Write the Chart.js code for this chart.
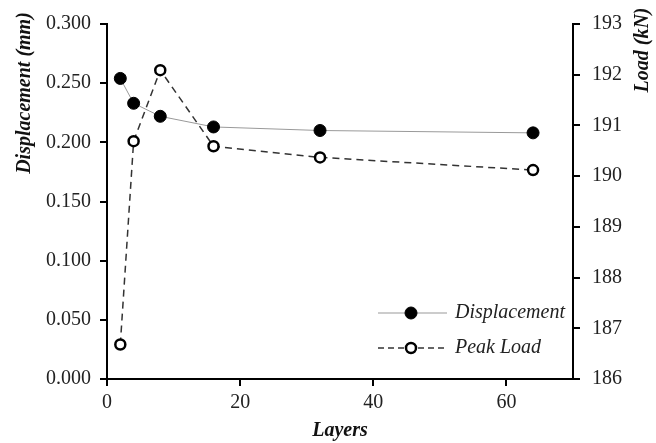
<!DOCTYPE html>
<html>
<head>
<meta charset="utf-8">
<script src="https://cdn.jsdelivr.net/npm/chart.js@4/dist/chart.umd.min.js"></script>
<style>
  html, body { margin: 0; padding: 0; background: #fff; }
  #wrap { width: 656px; height: 443px; }
</style>
</head>
<body>
<div id="wrap"><canvas id="chart" width="656" height="443"></canvas></div>
<script>
// Data
const layers = [2, 4, 8, 16, 32, 64];
const displacement = [0.254, 0.233, 0.222, 0.213, 0.210, 0.208];
const peakLoad = [186.68, 190.69, 192.09, 190.59, 190.37, 190.12];
const xTicks = [0, 20, 40, 60];

const SERIF = "'Liberation Serif', 'DejaVu Serif', serif";
const TITLE_FONT = "italic bold 20px " + SERIF;

// Legend drawn inside the plot, lower right, plus the two rotated axis titles
const extras = {
  id: "extras",
  afterDraw(chart) {
    const c = chart.ctx;
    const rows = [
      { label: "Displacement", dash: [], lineColor: "#999", lw: 1, fill: "#000", r: 6, bw: 1 },
      { label: "Peak Load", dash: [6, 4], lineColor: "#333", lw: 1.5, fill: "#fff", r: 5, bw: 2.5 },
    ];
    const x0 = 378, x1 = 447, xm = 411;
    rows.forEach((row, i) => {
      const y = 313 + i * 35;
      c.save();
      c.strokeStyle = row.lineColor;
      c.lineWidth = row.lw;
      c.setLineDash(row.dash);
      c.beginPath();
      c.moveTo(x0, y);
      c.lineTo(x1, y);
      c.stroke();
      c.setLineDash([]);
      c.beginPath();
      c.arc(xm, y, row.r, 0, Math.PI * 2);
      c.fillStyle = row.fill;
      c.fill();
      c.lineWidth = row.bw;
      c.strokeStyle = "#000";
      c.stroke();
      c.fillStyle = "#222";
      c.font = "italic 20px " + SERIF;
      c.textBaseline = "middle";
      c.fillText(row.label, 455, y);
      c.restore();
    });

    // rotated axis titles, both read bottom to top
    const titles = [
      { text: "Displacement (mm)", x: 25, y: 93 },
      { text: "Load (kN)", x: 643, y: 50 },
    ];
    titles.forEach((t) => {
      c.save();
      c.translate(t.x, t.y);
      c.rotate(-Math.PI / 2);
      c.font = TITLE_FONT;
      c.fillStyle = "#111";
      c.textAlign = "center";
      c.textBaseline = "middle";
      c.fillText(t.text, 0, 0);
      c.restore();
    });
  },
};

const ctx = document.getElementById("chart").getContext("2d");

new Chart(ctx, {
  type: "line",
  data: {
    datasets: [
      {
        label: "Displacement",
        data: layers.map((x, i) => ({ x: x, y: displacement[i] })),
        yAxisID: "y",
        borderColor: "#999",
        borderWidth: 1,
        pointRadius: 6,
        pointBackgroundColor: "#000",
        pointBorderColor: "#000",
        pointBorderWidth: 1,
        tension: 0,
      },
      {
        label: "Peak Load",
        data: layers.map((x, i) => ({ x: x, y: peakLoad[i] })),
        yAxisID: "y1",
        borderColor: "#333",
        borderWidth: 1.5,
        borderDash: [7, 5],
        pointRadius: 5,
        pointBackgroundColor: "#fff",
        pointBorderColor: "#000",
        pointBorderWidth: 2.5,
        tension: 0,
      },
    ],
  },
  options: {
    responsive: false,
    animation: false,
    layout: { padding: { top: 20, left: 0, right: 0, bottom: 0 } },
    plugins: {
      legend: { display: false },
      tooltip: { enabled: false },
    },
    scales: {
      x: {
        type: "linear",
        min: 0,
        max: 70,
        afterBuildTicks: (s) => { s.ticks = xTicks.map((v) => ({ value: v })); },
        afterFit: (s) => { s.height = 64; },
        grid: { drawOnChartArea: false, drawTicks: true, tickLength: 7, color: "#000", lineWidth: 2 },
        border: { color: "#000", width: 2 },
        ticks: { color: "#222", font: { family: SERIF, size: 20 }, padding: 5 },
        title: {
          display: true,
          text: "Layers",
          color: "#111",
          font: { family: SERIF, size: 20, style: "italic", weight: "bold" },
          padding: { top: 0, bottom: 0 },
        },
      },
      y: {
        position: "left",
        min: 0,
        max: 0.3,
        afterFit: (s) => { s.width = 107; },
        grid: { drawOnChartArea: false, drawTicks: true, tickLength: 7, color: "#000", lineWidth: 2 },
        border: { color: "#000", width: 2 },
        ticks: {
          stepSize: 0.05,
          color: "#222",
          padding: 9,
          font: { family: SERIF, size: 20 },
          callback: (v) => v.toFixed(3),
        },
      },
      y1: {
        position: "right",
        min: 186,
        max: 193,
        afterFit: (s) => { s.width = 83; },
        grid: { drawOnChartArea: false, drawTicks: true, tickLength: 7, color: "#000", lineWidth: 2 },
        border: { color: "#000", width: 2 },
        ticks: {
          stepSize: 1,
          color: "#222",
          padding: 12,
          font: { family: SERIF, size: 20 },
        },
      },
    },
  },
  plugins: [extras],
});
</script>
</body>
</html>
